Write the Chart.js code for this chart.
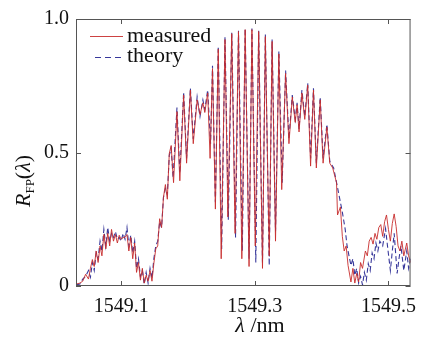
<!DOCTYPE html>
<html><head><meta charset="utf-8">
<script src="https://cdn.jsdelivr.net/npm/chart.js@4/dist/chart.umd.min.js"></script>
<style>html,body{margin:0;padding:0;background:#fff}#wrap{width:425px;height:338px;position:relative}</style>
</head><body><div id="wrap"><canvas id="c" width="425" height="338"></canvas></div>
<script>
const seriesNames = ['measured', 'theory'];
const xTickValues = [1549.1, 1549.3, 1549.5];
const yTickValues = [0, 0.5, 1.0];
const yTickLabels = ['0', '0.5', '1.0'];
const xRange = [1549.0324, 1549.5331];
const yRange = [0, 1.0];

const measuredWavelength = [
1549.0324,1549.0382,1549.0425,1549.0468,1549.0511,1549.0540,1549.0569,1549.0597,1549.0626,1549.0655,
1549.0684,1549.0712,1549.0741,1549.0770,1549.0799,1549.0828,1549.0856,1549.0885,1549.0914,1549.0943,
1549.0971,1549.1000,1549.1029,1549.1058,1549.1087,1549.1115,1549.1144,1549.1173,1549.1202,1549.1230,
1549.1259,1549.1288,1549.1317,1549.1345,1549.1374,1549.1403,1549.1432,1549.1461,1549.1489,1549.1518,
1549.1547,1549.1576,1549.1605,1549.1633,1549.1662,1549.1691,1549.1720,1549.1748,
1549.1784,1549.1835,1549.1878,1549.1935,1549.1979,1549.2036,1549.2079,1549.2137,1549.2180,1549.2223,1549.2252,1549.2295,
1549.2331,1549.2367,1549.2410,1549.2453,1549.2497,1549.2554,1549.2597,1549.2655,1549.2705,1549.2756,
1549.2806,1549.2856,1549.2914,1549.2957,1549.3007,1549.3058,1549.3115,1549.3158,1549.3216,1549.3259,
1549.3310,1549.3360,1549.3403,1549.3461,1549.3511,
1549.3561,1549.3605,1549.3633,1549.3662,1549.3705,1549.3748,1549.3792,1549.3835,1549.3878,1549.3921,
1549.3979,1549.4022,1549.4079,1549.4122,1549.4166,1549.4223,1549.4238,
1549.4281,1549.4310,1549.4338,1549.4367,1549.4396,1549.4439,1549.4468,1549.4497,1549.4525,1549.4554,
1549.4583,1549.4612,1549.4655,1549.4684,1549.4712,1549.4741,1549.4770,1549.4799,1549.4827,1549.4856,
1549.4885,1549.4914,1549.4943,1549.4971,1549.5000,1549.5029,1549.5058,1549.5086,1549.5115,1549.5144,
1549.5173,1549.5201,1549.5230,1549.5274,1549.5302,1549.5331
];
const measuredR = [
0.007,0.011,0.018,0.044,0.026,0.066,0.099,0.073,0.131,0.088,
0.150,0.113,0.193,0.139,0.197,0.150,0.212,0.168,0.193,0.161,
0.190,0.175,0.182,0.182,0.193,0.131,0.182,0.102,0.161,0.051,
0.088,0.022,0.066,0.011,0.040,0.018,0.058,0.018,0.084,0.139,
0.150,0.252,0.219,0.332,0.380,0.325,0.496,0.526,
0.387,0.653,0.394,0.715,0.460,0.734,0.533,0.697,0.642,0.686,0.650,0.723,
0.478,0.814,0.288,0.887,0.102,0.923,0.259,0.945,0.197,0.953,
0.102,0.960,0.073,0.960,0.150,0.953,0.066,0.934,0.113,0.916,
0.168,0.869,0.361,0.796,0.533,
0.708,0.613,0.679,0.577,0.723,0.624,0.752,0.449,0.734,0.442,
0.697,0.460,0.595,0.460,0.442,0.387,0.266,
0.296,0.186,0.131,0.150,0.077,0.015,0.066,0.011,0.047,0.015,
0.088,0.066,0.131,0.113,0.168,0.182,0.157,0.197,0.175,0.219,
0.230,0.186,0.241,0.266,0.212,0.168,0.234,0.270,0.223,0.150,
0.131,0.168,0.113,0.161,0.113,0.088
];

const theoryWavelength = [
1549.0324,1549.0382,1549.0425,1549.0468,1549.0511,1549.0540,1549.0569,1549.0597,1549.0626,1549.0655,
1549.0684,1549.0712,1549.0741,1549.0770,1549.0799,1549.0828,1549.0856,1549.0885,1549.0914,1549.0943,
1549.0971,1549.1000,1549.1029,1549.1058,1549.1087,1549.1115,1549.1144,1549.1173,1549.1202,1549.1230,
1549.1259,1549.1288,1549.1317,1549.1345,1549.1374,1549.1403,1549.1432,1549.1461,1549.1489,1549.1518,
1549.1547,1549.1576,1549.1605,1549.1633,1549.1662,1549.1691,1549.1720,1549.1748,1549.1777,
1549.1835,1549.1878,1549.1935,1549.1979,1549.2036,1549.2079,1549.2137,1549.2180,1549.2223,1549.2252,1549.2295,
1549.2338,1549.2367,1549.2410,1549.2453,1549.2504,1549.2554,1549.2604,1549.2655,1549.2712,1549.2756,
1549.2813,1549.2856,1549.2914,1549.2957,1549.3015,1549.3058,1549.3115,1549.3158,1549.3216,1549.3259,
1549.3310,1549.3360,1549.3410,1549.3461,1549.3511,
1549.3561,1549.3605,1549.3633,1549.3662,1549.3705,1549.3748,1549.3792,1549.3835,1549.3878,1549.3921,
1549.3979,1549.4022,1549.4079,1549.4122,1549.4180,1549.4238,1549.4281,1549.4310,1549.4353,1549.4381,
1549.4410,1549.4439,1549.4468,1549.4497,1549.4525,1549.4554,1549.4583,1549.4612,1549.4640,1549.4669,
1549.4698,1549.4727,1549.4756,1549.4784,1549.4813,1549.4842,1549.4871,1549.4914,1549.4957,1549.4986,
1549.5029,1549.5058,1549.5086,1549.5130,1549.5158,1549.5187,1549.5230,1549.5274,1549.5302,1549.5331
];
const theoryR = [
0.004,0.007,0.026,0.036,0.058,0.033,0.088,0.058,0.124,0.102,
0.168,0.131,0.212,0.150,0.219,0.168,0.197,0.182,0.204,0.175,
0.182,0.168,0.197,0.175,0.219,0.150,0.190,0.124,0.168,0.066,
0.102,0.036,0.058,0.007,0.051,0.011,0.066,0.029,0.102,0.150,
0.168,0.241,0.219,0.332,0.365,0.343,0.489,0.515,0.405,
0.668,0.423,0.726,0.478,0.741,0.551,0.708,0.635,0.697,0.661,0.734,
0.533,0.825,0.314,0.898,0.139,0.934,0.248,0.949,0.182,0.956,
0.131,0.964,0.102,0.964,0.088,0.956,0.088,0.942,0.077,0.923,
0.204,0.880,0.387,0.807,0.551,
0.715,0.624,0.686,0.588,0.734,0.635,0.759,0.478,0.741,0.460,
0.708,0.478,0.606,0.467,0.442,0.369,0.314,0.277,0.212,0.150,
0.113,0.077,0.102,0.040,0.066,0.011,0.036,0.004,0.051,0.022,
0.084,0.058,0.124,0.102,0.161,0.131,0.168,0.150,0.215,0.150,
0.058,0.131,0.197,0.047,0.102,0.150,0.058,0.131,0.066,0.102
];

const FONT = '"Liberation Serif", "Times New Roman", serif';
const measuredColor = 'rgba(200,45,45,0.9)';
const theoryColor = 'rgba(45,45,150,0.95)';

const framePlugin = {
  id: 'frame',
  afterDraw(chart) {
    const {ctx, chartArea: a, scales: {x, y}} = chart;
    ctx.save();
    ctx.strokeStyle = '#555';
    ctx.lineWidth = 1;
    ctx.strokeRect(a.left + 0.5, a.top + 0.5, a.right - a.left - 1, a.bottom - a.top - 1);
    ctx.beginPath();
    xTickValues.forEach(v => {
      const p = Math.round(x.getPixelForValue(v)) + 0.5;
      ctx.moveTo(p, a.bottom); ctx.lineTo(p, a.bottom - 5);
      ctx.moveTo(p, a.top); ctx.lineTo(p, a.top + 5);
    });
    yTickValues.forEach(v => {
      const p = Math.round(y.getPixelForValue(v)) + 0.5;
      ctx.moveTo(a.left, p); ctx.lineTo(a.left + 5, p);
      ctx.moveTo(a.right, p); ctx.lineTo(a.right - 5, p);
    });
    ctx.stroke();

    // legend
    ctx.lineWidth = 1;
    ctx.strokeStyle = measuredColor;
    ctx.beginPath(); ctx.moveTo(90, 36.5); ctx.lineTo(123, 36.5); ctx.stroke();
    ctx.strokeStyle = theoryColor;
    ctx.setLineDash([6, 4]);
    ctx.beginPath(); ctx.moveTo(95, 57.5); ctx.lineTo(125, 57.5); ctx.stroke();
    ctx.setLineDash([]);
    ctx.fillStyle = '#111';
    ctx.font = '22px ' + FONT;
    ctx.textBaseline = 'alphabetic';
    ctx.textAlign = 'left';
    ctx.fillText(seriesNames[0], 127, 42);
    ctx.fillText(seriesNames[1], 127, 62);

    // x title
    ctx.font = 'italic 22px ' + FONT;
    const l1 = 'λ';
    const w1 = ctx.measureText(l1).width;
    ctx.font = '22px ' + FONT;
    const l2 = ' /nm';
    const w2 = ctx.measureText(l2).width;
    let sx = 260 - (w1 + w2) / 2;
    ctx.font = 'italic 22px ' + FONT;
    ctx.fillText(l1, sx, 332);
    ctx.font = '22px ' + FONT;
    ctx.fillText(l2, sx + w1, 332);

    // y title
    ctx.save();
    ctx.translate(30, 181);
    ctx.rotate(-Math.PI / 2);
    const parts = [
      {t: 'R', f: 'italic 22px ' + FONT, dy: 0},
      {t: 'FP', f: '13px ' + FONT, dy: 4},
      {t: '(', f: '22px ' + FONT, dy: 0},
      {t: 'λ', f: 'italic 22px ' + FONT, dy: 0},
      {t: ')', f: '22px ' + FONT, dy: 0}
    ];
    let total = 0;
    parts.forEach(p => { ctx.font = p.f; p.w = ctx.measureText(p.t).width; total += p.w; });
    let cx = -total / 2;
    parts.forEach(p => { ctx.font = p.f; ctx.fillText(p.t, cx, p.dy); cx += p.w; });
    ctx.restore();
    ctx.restore();
  }
};

new Chart(document.getElementById('c'), {
  type: 'line',
  data: {
    datasets: [
      {
        label: seriesNames[0],
        data: measuredWavelength.map((x, i) => ({x, y: measuredR[i]})),
        borderColor: measuredColor,
        borderWidth: 1,
        pointRadius: 0,
        tension: 0,
        fill: false
      },
      {
        label: seriesNames[1],
        data: theoryWavelength.map((x, i) => ({x, y: theoryR[i]})),
        borderColor: theoryColor,
        borderWidth: 1.1,
        borderDash: [5, 3],
        pointRadius: 0,
        tension: 0,
        fill: false
      }
    ]
  },
  options: {
    responsive: false,
    animation: false,
    devicePixelRatio: 1,
    layout: {padding: {top: 12, right: 1, left: 0, bottom: 0}},
    plugins: {legend: {display: false}, tooltip: {enabled: false}},
    scales: {
      x: {
        type: 'linear', min: xRange[0], max: xRange[1],
        afterBuildTicks: s => { s.ticks = xTickValues.map(v => ({value: v})); },
        afterFit: s => { s.height = 52; },
        grid: {display: false, drawTicks: false},
        border: {display: false},
        ticks: {font: {family: FONT, size: 20}, color: '#111', padding: 9, maxRotation: 0, autoSkip: false,
                callback: v => v.toFixed(1)}
      },
      y: {
        min: yRange[0], max: yRange[1],
        afterBuildTicks: s => { s.ticks = yTickValues.map(v => ({value: v})); },
        afterFit: s => { s.width = 76; },
        grid: {display: false, drawTicks: false},
        border: {display: false},
        ticks: {font: {family: FONT, size: 20}, color: '#111', padding: 7,
                callback: (v) => yTickLabels[yTickValues.indexOf(v)]}
      }
    }
  },
  plugins: [framePlugin]
});
</script>
</body></html>
